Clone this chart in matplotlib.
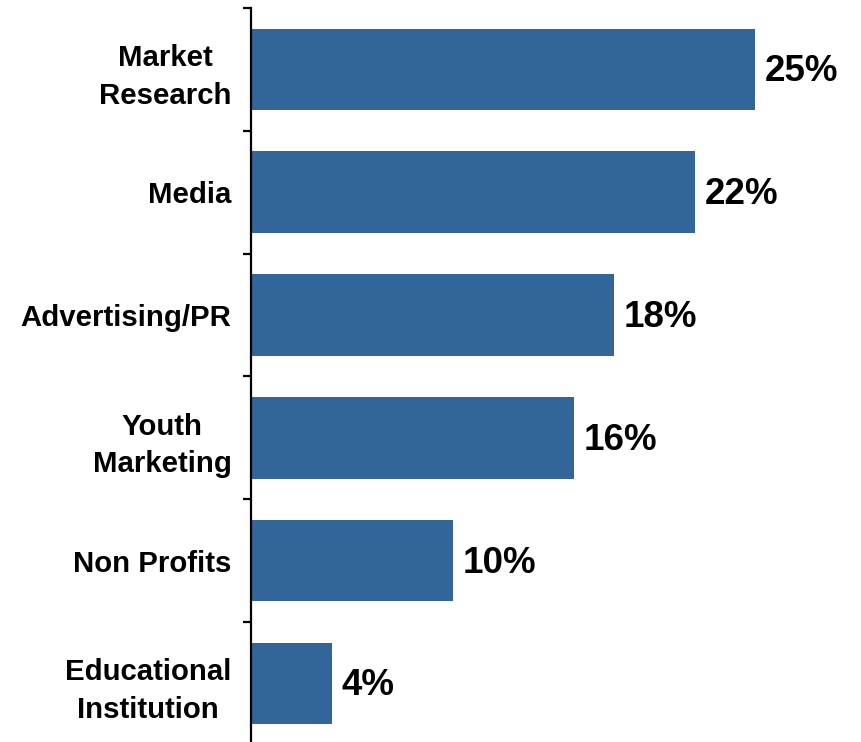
import numpy as np
import matplotlib
matplotlib.use("Agg")
import matplotlib.pyplot as plt

# data
categories = ["Market\nResearch", "Media", "Advertising/PR",
              "Youth\nMarketing", "Non Profits", "Educational\nInstitution"]
values = [25, 22, 18, 16, 10, 4]
value_labels = ["25%", "22%", "18%", "16%", "10%", "4%"]

bar_color = "#32659A"

plt.rcParams["font.family"] = ["Liberation Sans", "DejaVu Sans"]

fig = plt.figure(figsize=(8.61, 7.42), dpi=100)
ax = fig.add_axes([251 / 861, 0.0, 1 - 251 / 861, 1 - 8 / 742])

y = np.arange(len(categories))
ax.barh(y, values, height=0.665, color=bar_color, zorder=2)

for yi, v, lab in zip(y, values, value_labels):
    ax.text(v + 0.5, yi + 0.02, lab, va="center", ha="left",
            fontsize=26.5, fontweight="bold", color="black")

ax.set_xlim(0, (861 - 251) / 20.16)
ax.set_ylim(5.477, -0.5)

# spines
for s in ["top", "right", "bottom"]:
    ax.spines[s].set_visible(False)
ax.spines["left"].set_linewidth(1.6)
ax.spines["left"].set_color("black")

ax.set_xticks([])
ax.set_yticks(y)
ax.set_yticklabels(categories, fontsize=21.2, fontweight="bold", linespacing=1.42)
for t in ax.get_yticklabels():
    t.set_multialignment("center")
ax.tick_params(axis="y", which="major", length=0, pad=14)
ax.set_yticks(np.arange(-0.5, 5.0, 1.0), minor=True)
ax.tick_params(axis="y", which="minor", length=6, width=1.6, color="black")

fig.savefig("out.png", dpi=100)
